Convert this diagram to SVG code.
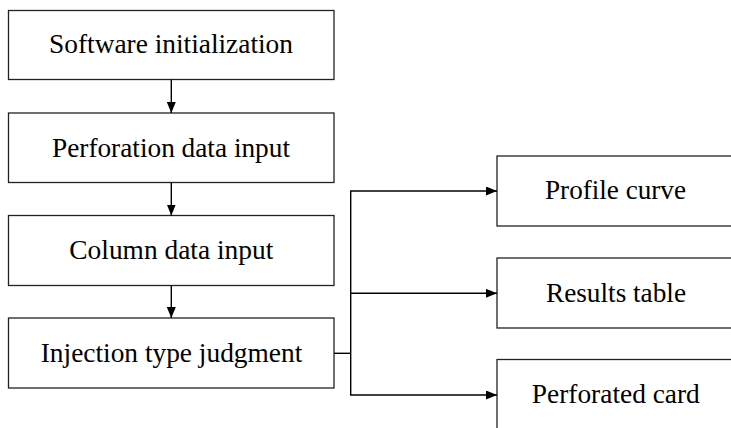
<svg xmlns="http://www.w3.org/2000/svg" width="731" height="428" viewBox="0 0 731 428">
<style>
.box{fill:#fff;stroke:#222;stroke-width:1.3}
.lbl{font-family:"Liberation Serif","Times New Roman",serif;font-size:26.3px;fill:#000;text-anchor:middle}
.con{fill:none;stroke:#000;stroke-width:1.4}
</style>
<defs>
<marker id="ah" markerWidth="11" markerHeight="9" refX="11" refY="4.5" orient="auto" markerUnits="userSpaceOnUse">
<path d="M0,0 L11,4.5 L0,9 Z" fill="#000"/>
</marker>
</defs>
<rect width="731" height="428" fill="#fff"/>
<g id="n1"><rect class="box" x="8.5" y="10.5" width="325.5" height="69"/><text class="lbl" x="171" y="53.3" textLength="244" lengthAdjust="spacingAndGlyphs">Software initialization</text></g>
<g id="n2"><rect class="box" x="8.5" y="113" width="325.5" height="69.5"/><text class="lbl" x="171" y="156.7" textLength="238" lengthAdjust="spacingAndGlyphs">Perforation data input</text></g>
<g id="n3"><rect class="box" x="8.5" y="215.5" width="325.5" height="70"/><text class="lbl" x="171.3" y="259.3" textLength="204" lengthAdjust="spacingAndGlyphs">Column data input</text></g>
<g id="n4"><rect class="box" x="8.5" y="318" width="325.5" height="70"/><text class="lbl" x="171.5" y="361.7" textLength="261.5" lengthAdjust="spacingAndGlyphs">Injection type judgment</text></g>
<g id="n5"><rect class="box" x="497" y="156" width="240" height="70"/><text class="lbl" x="615.5" y="199.3" textLength="141" lengthAdjust="spacingAndGlyphs">Profile curve</text></g>
<g id="n6"><rect class="box" x="497" y="258" width="240" height="70"/><text class="lbl" x="616" y="301.7" textLength="140" lengthAdjust="spacingAndGlyphs">Results table</text></g>
<g id="n7"><rect class="box" x="497" y="359.5" width="240" height="80"/><text class="lbl" x="615.8" y="403.3" textLength="168" lengthAdjust="spacingAndGlyphs">Perforated card</text></g>
<g id="connectors">
<line class="con" x1="171.3" y1="79.5" x2="171.3" y2="113" marker-end="url(#ah)"/>
<line class="con" x1="171.3" y1="182.5" x2="171.3" y2="215.5" marker-end="url(#ah)"/>
<line class="con" x1="171.3" y1="285.5" x2="171.3" y2="318" marker-end="url(#ah)"/>
<polyline class="con" points="334,353.3 350.7,353.3"/>
<line class="con" x1="350.7" y1="191" x2="350.7" y2="395"/>
<line class="con" x1="350" y1="191" x2="497" y2="191" marker-end="url(#ah)"/>
<line class="con" x1="350" y1="293.3" x2="497" y2="293.3" marker-end="url(#ah)"/>
<line class="con" x1="350" y1="395" x2="497" y2="395" marker-end="url(#ah)"/>
</g>
</svg>
